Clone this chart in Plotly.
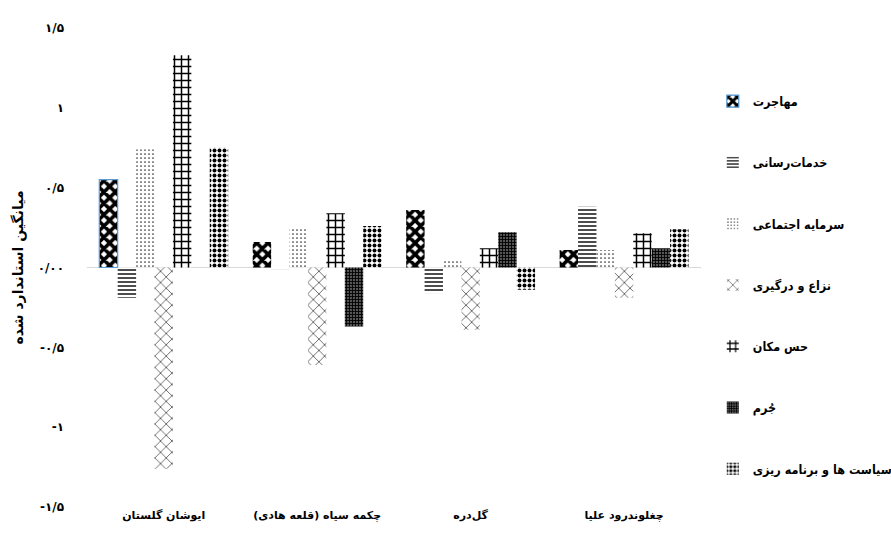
import plotly.graph_objects as go

# Villages (category axis)
villages = ["ایوشان گلستان", "چکمه سیاه (قلعه هادی)", "گل‌دره", "چغلوندرود علیا"]

# Standardised mean score of each factor per village
migration = [0.55, 0.16, 0.36, 0.11]
services = [-0.19, -0.01, -0.16, 0.38]
social_capital = [0.74, 0.25, 0.05, 0.11]
conflict = [-1.26, -0.61, -0.39, -0.19]
sense_of_place = [1.33, 0.34, 0.12, 0.215]
crime = [0.0, -0.37, 0.22, 0.12]
policy = [0.75, 0.26, -0.14, 0.24]

series_names = [
    "مهاجرت",
    "خدمات‌رسانی",
    "سرمایه اجتماعی",
    "نزاع و درگیری",
    "حس مکان",
    "جُرم",
    "سیاست ها و برنامه ریزی",
]
series_values = [migration, services, social_capital, conflict, sense_of_place, crime, policy]

# y tick values and their Persian labels
y_ticks = [-1.5, -1.0, -0.5, 0.0, 0.5, 1.0, 1.5]
y_tick_labels = ["-۱/۵", "-۱", "-۰/۵", "۰/۰۰", "۰/۵", "۱", "۱/۵"]

# Black-and-white hatch styles, one per factor
patterns = [
    dict(shape="x", size=8, solidity=0.7, fgcolor="black", bgcolor="white", fgopacity=1),
    dict(shape="-", size=4, solidity=0.35, fgcolor="black", bgcolor="white", fgopacity=1),
    dict(shape=".", size=4, solidity=0.15, fgcolor="#333333", bgcolor="white", fgopacity=1),
    dict(shape="x", size=8, solidity=0.18, fgcolor="#444444", bgcolor="white", fgopacity=1),
    dict(shape="+", size=7, solidity=0.38, fgcolor="black", bgcolor="white", fgopacity=1),
    dict(shape="+", size=3, solidity=0.5, fgcolor="black", bgcolor="#555555", fgopacity=1),
    dict(shape=".", size=5, solidity=0.5, fgcolor="black", bgcolor="white", fgopacity=1),
]

FONT = "DejaVu Sans"
LEGEND_FONT = "DejaVu Sans Condensed, DejaVu Sans"

fig = go.Figure()
for i, (name, vals, pat) in enumerate(zip(series_names, series_values, patterns)):
    line_colors = ["rgba(0,0,0,0)"] * len(vals)
    line_widths = [0] * len(vals)
    if i == 0:
        # first bar carries a thin blue selection outline
        line_colors[0] = "#5b9bd5"
        line_widths[0] = 1.2
    fig.add_trace(
        go.Bar(
            x=villages,
            y=vals,
            name=name,
            legendgroup=name,
            marker=dict(
                color="white",
                pattern=pat,
                line=dict(color=line_colors, width=line_widths),
            ),
        )
    )

fig.update_layout(
    width=891,
    height=544,
    paper_bgcolor="white",
    plot_bgcolor="white",
    margin=dict(l=87, r=188, t=28, b=37),
    barmode="group",
    bargap=0.16,
    bargroupgap=0,
    font=dict(family=FONT, size=11, color="black"),
    showlegend=True,
    legend=dict(
        xref="container",
        yref="container",
        x=0.80,
        y=0.476,
        xanchor="left",
        yanchor="middle",
        tracegroupgap=42,
        maxheight=520,
        font=dict(family=LEGEND_FONT, size=12.5, color="black", weight="bold"),
        bgcolor="rgba(0,0,0,0)",
    ),
)

fig.update_xaxes(
    showgrid=False,
    showline=False,
    zeroline=False,
    ticks="",
    tickfont=dict(family=FONT, size=11, color="black", weight="bold"),
)

fig.update_yaxes(
    range=[-1.5, 1.5],
    tickvals=y_ticks,
    ticktext=y_tick_labels,
    showgrid=False,
    showline=False,
    zeroline=True,
    zerolinecolor="#d9d9d9",
    zerolinewidth=1,
    ticks="",
    ticklabelstandoff=22,
    tickfont=dict(family=FONT, size=12, color="black", weight="bold"),
    title=dict(
        text="میانگین استاندارد شده",
        font=dict(family=FONT, size=14, color="black", weight="bold"),
        standoff=10,
    ),
)

fig.write_html("out.html")
